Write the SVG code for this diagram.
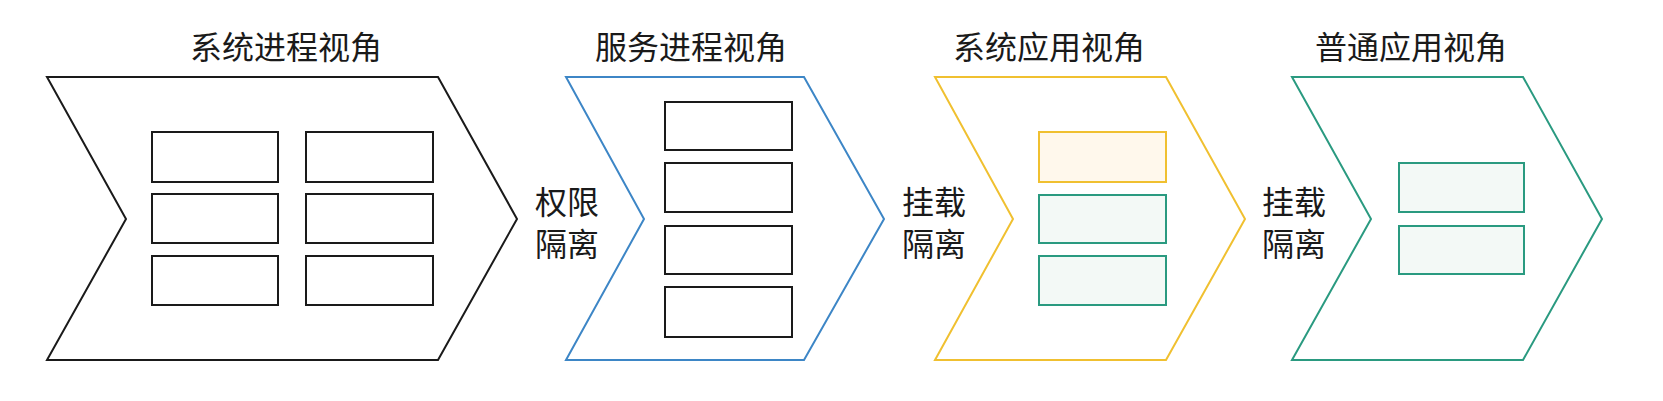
<svg xmlns="http://www.w3.org/2000/svg" width="1663" height="401" viewBox="0 0 1663 401">
<style>
.t{font-family:"Noto Sans CJK SC","Noto Sans",sans-serif;font-size:32px;fill:#1a1a1a}
.tc{text-anchor:middle}
.ch{fill:#fff;stroke-width:2;stroke-linejoin:miter}
.bx{fill:#fff;stroke:#1a1a1a;stroke-width:2}
.yb{fill:#fff8ec;stroke:#f0c030;stroke-width:2}
.gb{fill:#f3f9f6;stroke:#2a9a80;stroke-width:2}
</style>
<rect width="1663" height="401" fill="#fff"/>
<g id="node-sys-proc">
<polygon class="ch" stroke="#1a1a1a" points="47,77 438,77 517,219 438,360 47,360 126,219"/>
<rect class="bx" x="152" y="132" width="126" height="50"/>
<rect class="bx" x="306" y="132" width="127" height="50"/>
<rect class="bx" x="152" y="194" width="126" height="49"/>
<rect class="bx" x="306" y="194" width="127" height="49"/>
<rect class="bx" x="152" y="256" width="126" height="49"/>
<rect class="bx" x="306" y="256" width="127" height="49"/>
<text class="t tc" x="286" y="59">系统进程视角</text>
</g>
<g id="node-svc-proc">
<polygon class="ch" stroke="#3d86c6" points="566,77 804,77 884,219 804,360 566,360 644,219"/>
<rect class="bx" x="665" y="102" width="127" height="48"/>
<rect class="bx" x="665" y="163" width="127" height="49"/>
<rect class="bx" x="665" y="226" width="127" height="48"/>
<rect class="bx" x="665" y="287" width="127" height="50"/>
<text class="t tc" x="691" y="59">服务进程视角</text>
</g>
<g id="node-sys-app">
<polygon class="ch" stroke="#f0c030" points="935,77 1166,77 1245,219 1166,360 935,360 1013,219"/>
<rect class="yb" x="1039" y="132" width="127" height="50"/>
<rect class="gb" x="1039" y="195" width="127" height="48"/>
<rect class="gb" x="1039" y="256" width="127" height="49"/>
<text class="t tc" x="1049" y="59">系统应用视角</text>
</g>
<g id="node-app">
<polygon class="ch" stroke="#2a9a80" points="1292,77 1523,77 1602,219 1523,360 1292,360 1371,219"/>
<rect class="gb" x="1399" y="163" width="125" height="49"/>
<rect class="gb" x="1399" y="226" width="125" height="48"/>
<text class="t tc" x="1411" y="59">普通应用视角</text>
</g>
<g id="connectors">
<text class="t" x="535" y="214">权限</text>
<text class="t" x="535" y="256">隔离</text>
<text class="t" x="902" y="214">挂载</text>
<text class="t" x="902" y="256">隔离</text>
<text class="t" x="1262" y="214">挂载</text>
<text class="t" x="1262" y="256">隔离</text>
</g>
</svg>
